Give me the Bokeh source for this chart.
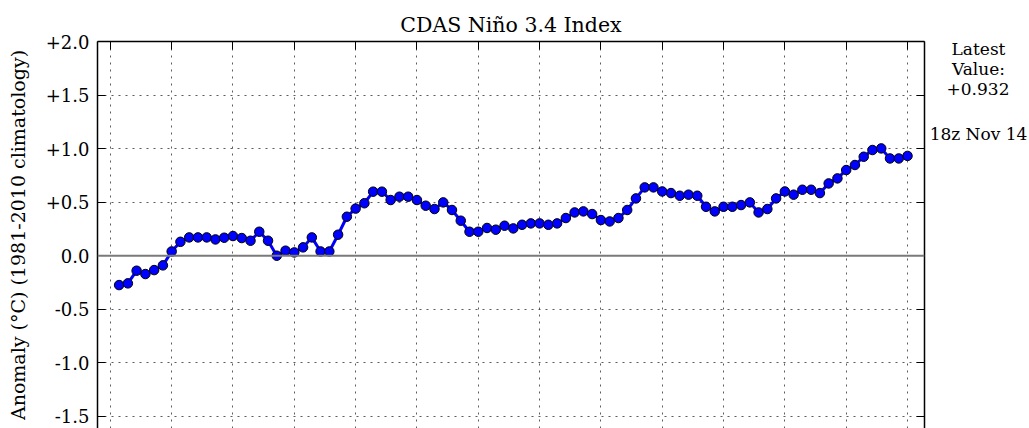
from bokeh.plotting import figure
from bokeh.layouts import row
from bokeh.models import Range1d, LinearAxis, FixedTicker, Grid, Span
from bokeh.core.properties import value
from bokeh.embed import file_html
from bokeh.resources import INLINE

# ---- data ----
title_text = "CDAS Niño 3.4 Index"
y_label = "Anomaly (°C) (1981-2010 climatology)"
side_texts = ["Latest", "Value:", "+0.932", "18z Nov 14"]

anomaly = [
    -0.274, -0.258, -0.140, -0.171, -0.134, -0.090, 0.040, 0.130, 0.171, 0.171,
    0.171, 0.152, 0.168, 0.184, 0.165, 0.140, 0.224, 0.140, 0.000, 0.047,
    0.031, 0.078, 0.171, 0.040, 0.040, 0.196, 0.364, 0.440, 0.490, 0.598,
    0.598, 0.520, 0.551, 0.551, 0.520, 0.467, 0.436, 0.498, 0.427, 0.327,
    0.224, 0.224, 0.259, 0.243, 0.280, 0.255, 0.289, 0.302, 0.302, 0.289,
    0.302, 0.352, 0.404, 0.414, 0.389, 0.333, 0.320, 0.352, 0.427, 0.535,
    0.638, 0.638, 0.600, 0.585, 0.560, 0.570, 0.560, 0.457, 0.414, 0.457,
    0.457, 0.473, 0.498, 0.404, 0.436, 0.535, 0.600, 0.570, 0.616, 0.616,
    0.585, 0.675, 0.722, 0.800, 0.847, 0.924, 0.987, 1.002, 0.908, 0.908,
    0.932,
]
day = list(range(len(anomaly)))          # daily samples
week_ticks = [-1, 6, 13, 20, 27, 34, 41, 48, 55, 62, 69, 76, 83, 90]
y_ticks = [-1.5, -1.0, -0.5, 0.0, 0.5, 1.0, 1.5, 2.0]
y_tick_labels = ["-1.5", "-1.0", "-0.5", "0.0", "+0.5", "+1.0", "+1.5", "+2.0"]

FONT = "DejaVu Serif"

p = figure(width=928, height=428,
           x_range=Range1d(-2.466, 91.94), y_range=Range1d(-1.613, 2.0),
           toolbar_location=None, output_backend="svg",
           x_axis_location=None, y_axis_location=None,
           min_border_left=97, min_border_right=4,
           min_border_top=41, min_border_bottom=0)
p.grid.visible = False
p.outline_line_color = None

p.title.text = title_text
p.title.align = "center"
p.title.text_font = FONT
p.title.text_font_size = "20.5px"
p.title.text_font_style = "normal"
p.title.text_color = "black"
p.title.standoff = 10

ytick = FixedTicker(ticks=y_ticks)
overrides = {v: s for v, s in zip(y_ticks, y_tick_labels)}

left = LinearAxis(ticker=ytick, axis_label=y_label)
left.major_label_overrides = overrides
left.major_label_text_font = FONT
left.major_label_text_font_size = "18px"
left.major_label_text_color = "black"
left.major_label_standoff = 8
left.axis_label_text_font = FONT
left.axis_label_text_font_size = "19px"
left.axis_label_text_font_style = "normal"
left.axis_label_text_color = "black"
left.axis_label_standoff = 14
left.major_tick_in = 8
left.major_tick_out = 0
left.minor_tick_line_color = None
left.axis_line_width = 1.5
p.add_layout(left, "left")

# right and top frame edges: tick marks only (no labels)
right = LinearAxis(ticker=FixedTicker(ticks=[], minor_ticks=y_ticks))
right.minor_tick_in = 8
right.minor_tick_out = 0
right.major_label_standoff = 0
right.major_tick_out = 0
right.axis_line_width = 1.5
p.add_layout(right, "right")

top = LinearAxis(ticker=FixedTicker(ticks=[], minor_ticks=week_ticks))
top.minor_tick_in = 8
top.minor_tick_out = 0
top.major_label_standoff = 0
top.major_tick_out = 0
top.axis_line_width = 1.5
p.add_layout(top, "above")

for dim, tk in ((0, FixedTicker(ticks=week_ticks)), (1, FixedTicker(ticks=y_ticks))):
    p.add_layout(Grid(dimension=dim, ticker=tk, grid_line_color="#333333",
                      grid_line_dash="2 5", grid_line_width=1,
                      grid_line_alpha=0.8))

p.add_layout(Span(location=0, dimension="width", line_color="#7a7a7a",
                  line_width=2))

p.line(day, anomaly, line_color="blue", line_width=3)
p.scatter(day, anomaly, size=9.5, fill_color="blue", line_color="black",
          line_width=1)

# side panel with the latest-value note (page-pixel coordinates, y downward;
# its frame is aligned with the main plot frame by the row layout)
side = figure(width=101, height=428, x_range=Range1d(0, 101),
              y_range=Range1d(428, 41), toolbar_location=None,
              output_backend="svg", x_axis_location=None,
              y_axis_location=None, min_border=0)
side.grid.visible = False
side.outline_line_color = None
side.text(x=[50, 50, 49.5, 50], y=[48.3, 68.3, 88.3, 133.3], text=side_texts,
          text_align="center", text_baseline="middle",
          text_font=value(FONT), text_font_size=value("17px"),
          text_color="black")

open("out.html", "w").write(file_html(row(p, side), INLINE))
